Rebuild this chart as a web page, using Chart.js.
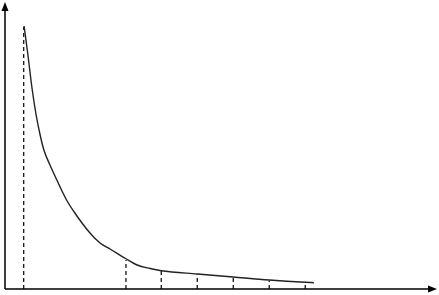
<!DOCTYPE html>
<html>
<head>
<meta charset="utf-8">
<script src="https://cdn.jsdelivr.net/npm/chart.js@4/dist/chart.umd.min.js"></script>
<style>
    html, body { margin: 0; padding: 0; background: #fff; }
    #wrap { width: 439px; height: 295px; }
</style>
</head>
<body>
<div id="wrap"><canvas id="chart"></canvas></div>
<script>
// Decay curve (x in steps, y in height units).
const curveX = [0.53, 0.64, 0.75, 0.86, 0.97, 1.08, 1.25, 1.44, 1.71, 1.94, 2.36, 2.64, 2.92, 3.35, 3.67, 4.03, 4.34, 5.34, 6.34, 7.34, 8.34, 8.58];
const curveY = [263, 233, 201, 175, 155, 139, 124, 109, 89, 76, 56, 46, 40, 30.5, 24, 20.5, 18.3, 15, 12, 9, 6.7, 6.3];

// Dashed drop lines, from the axis up to the curve.
const dropX = [0.52, 3.36, 4.34, 5.34, 6.34, 7.34, 8.34];
const dropY = [262, 29, 18, 14.5, 11.5, 8.5, 6.3];

const xMax = 12;
const yMax = 287;

/**
 * Draws the two axes with arrow heads on the chart area edges.
 */
const arrowAxes = {
    id: "arrowAxes",
    afterDraw(chart) {
        const {ctx, chartArea: a} = chart;
        ctx.save();
        ctx.strokeStyle = "#000";
        ctx.fillStyle = "#000";
        ctx.lineWidth = 1.5;

        ctx.beginPath();
        ctx.moveTo(a.left, a.bottom);
        ctx.lineTo(a.left, a.top + 6);
        ctx.moveTo(a.left, a.bottom);
        ctx.lineTo(a.right - 6, a.bottom);
        ctx.stroke();

        // y arrow
        ctx.beginPath();
        ctx.moveTo(a.left, a.top);
        ctx.lineTo(a.left - 3.5, a.top + 9);
        ctx.lineTo(a.left + 3.5, a.top + 9);
        ctx.closePath();
        ctx.fill();

        // x arrow
        ctx.beginPath();
        ctx.moveTo(a.right, a.bottom);
        ctx.lineTo(a.right - 9, a.bottom - 3.5);
        ctx.lineTo(a.right - 9, a.bottom + 3.5);
        ctx.closePath();
        ctx.fill();
        ctx.restore();
    }
};

const datasets = [{
    data: curveX.map((x, i) => ({x, y: curveY[i]})),
    borderColor: "#222",
    borderWidth: 1.4,
    pointRadius: 0,
    cubicInterpolationMode: "monotone"
}];

for (let i = 0; i < dropX.length; i++) {
    datasets.push({
        data: [{x: dropX[i], y: 0}, {x: dropX[i], y: dropY[i]}],
        borderColor: "#000",
        borderWidth: 1.2,
        borderDash: [4, 3],
        pointRadius: 0
    });
}

new Chart(document.getElementById("chart"), {
    type: "line",
    data: {datasets},
    options: {
        responsive: true,
        maintainAspectRatio: false,
        animation: false,
        layout: {padding: {left: 5, top: 2, right: 2, bottom: 6}},
        plugins: {
            legend: {display: false},
            tooltip: {enabled: false}
        },
        scales: {
            x: {type: "linear", min: 0, max: xMax, display: false},
            y: {type: "linear", min: 0, max: yMax, display: false}
        }
    },
    plugins: [arrowAxes]
});
</script>
</body>
</html>
